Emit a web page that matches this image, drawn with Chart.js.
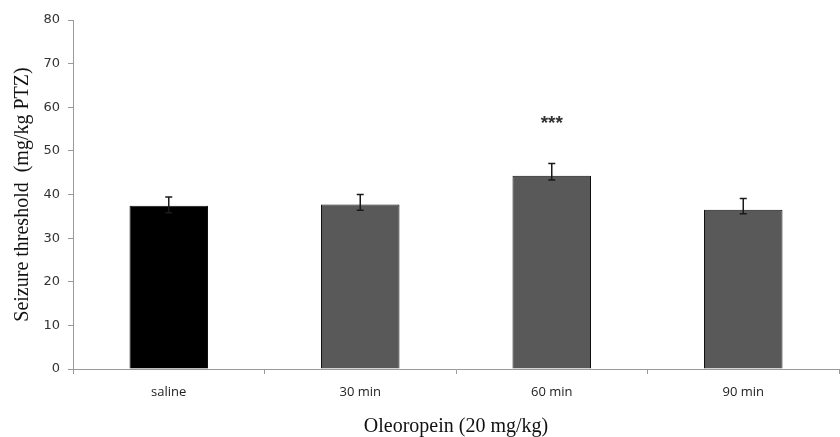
<!DOCTYPE html>
<html>
<head>
<meta charset="utf-8">
<script src="https://cdn.jsdelivr.net/npm/chart.js@4"></script>
<style>
  html, body { margin: 0; padding: 0; background: #fff; }
  #wrap { width: 840px; height: 437px; }
</style>
</head>
<body>
<div id="wrap"><canvas id="seizureChart" width="840" height="437"></canvas></div>
<script>
// values
const groups = ['saline', '30 min', '60 min', '90 min'];
const threshold = [37.4, 37.7, 44.3, 36.5];
const errUpper = [39.4, 40.0, 47.1, 39.1];
const errLower = [35.8, 36.4, 43.3, 35.6];
const significance = ['', '', '***', ''];
const barColors = ['#000000', '#595959', '#595959', '#595959'];
const yTicks = [0, 10, 20, 30, 40, 50, 60, 70, 80];

// error bars + significance stars, drawn through the chart scales
const errorBars = {
  id: 'errorBars',
  afterDatasetsDraw(chart) {
    const ctx = chart.ctx;
    const y = chart.scales.y;
    const bars = chart.getDatasetMeta(0).data;
    ctx.save();
    ctx.strokeStyle = '#1a1a1a';
    ctx.lineWidth = 1.5;
    bars.forEach((bar, i) => {
      const top = y.getPixelForValue(errUpper[i]);
      const bottom = y.getPixelForValue(errLower[i]);
      const cap = 3.5;
      ctx.beginPath();
      ctx.moveTo(bar.x, top);
      ctx.lineTo(bar.x, bottom);
      ctx.moveTo(bar.x - cap, top);
      ctx.lineTo(bar.x + cap, top);
      ctx.moveTo(bar.x - cap, bottom);
      ctx.lineTo(bar.x + cap, bottom);
      ctx.stroke();
      if (significance[i]) {
        ctx.fillStyle = '#333';
        ctx.font = 'bold 19px "Liberation Sans"';
        ctx.textAlign = 'center';
        ctx.textBaseline = 'middle';
        ctx.fillText(significance[i], bar.x, y.getPixelForValue(errUpper[i] + 9));
      }
    });
    ctx.restore();
  }
};

const ctx = document.getElementById('seizureChart').getContext('2d');
new Chart(ctx, {
  type: 'bar',
  data: {
    labels: groups,
    datasets: [{
      data: threshold,
      backgroundColor: barColors,
      borderColor: '#111',
      borderWidth: 1,
      barPercentage: 0.41,
      categoryPercentage: 1
    }]
  },
  options: {
    responsive: false,
    animation: false,
    layout: { padding: { top: 20, right: 1, left: 0, bottom: 0 } },
    plugins: { legend: { display: false }, tooltip: { enabled: false } },
    scales: {
      x: {
        afterFit: (scale) => { scale.height = 68; },
        border: { color: '#9a9a9a', width: 1 },
        grid: { drawOnChartArea: false, color: '#9a9a9a', tickLength: 5, offset: true },
        ticks: { color: '#222', padding: 10, font: { family: '"Open Sans"', size: 13 } },
        title: {
          display: true,
          text: 'Oleoropein (20 mg/kg)',
          color: '#111',
          font: { family: '"Liberation Serif"', size: 20 },
          padding: { top: 0, bottom: -2 }
        }
      },
      y: {
        min: 0,
        max: 80,
        afterFit: (scale) => { scale.width = 73; },
        afterBuildTicks: (scale) => { scale.ticks = yTicks.map(v => ({ value: v })); },
        border: { color: '#9a9a9a', width: 1 },
        grid: { drawOnChartArea: false, color: '#9a9a9a', tickLength: 5 },
        ticks: { color: '#333', padding: 8, font: { family: '"DejaVu Sans"', size: 13 } },
        title: {
          display: true,
          text: 'Seizure threshold  (mg/kg PTZ)',
          color: '#111',
          font: { family: '"Liberation Serif"', size: 20 },
          padding: { top: 11, bottom: 0 }
        }
      }
    }
  },
  plugins: [errorBars]
});
</script>
</body>
</html>
